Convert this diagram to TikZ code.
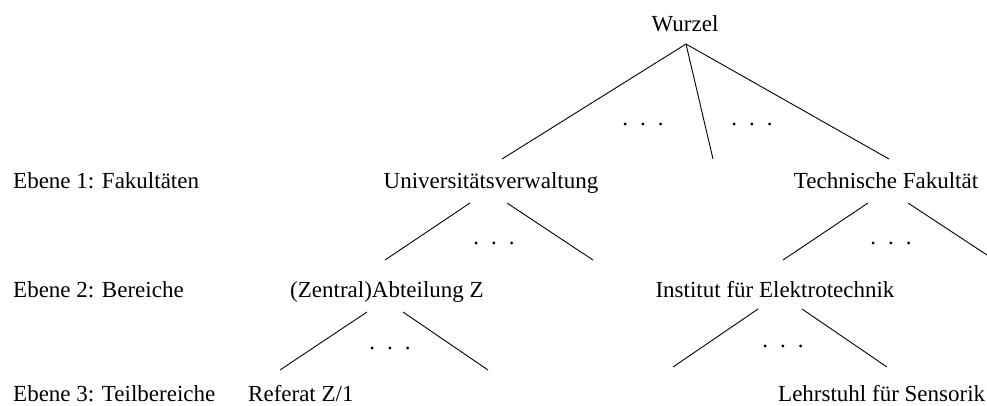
\documentclass[tikz,border=0pt]{standalone}
\usepackage{fontspec}
\setmainfont{Liberation Serif}
\begin{document}
\begin{tikzpicture}[x=1pt,y=-1pt,
  lbl/.style={inner sep=0pt,anchor=base,font=\fontsize{23}{27}\selectfont},
  lblw/.style={lbl,anchor=base west},
  dots/.style={inner sep=0pt,anchor=base,font=\fontsize{23}{27}\selectfont},
  edge/.style={draw=black,line width=0.9pt}]
\useasboundingbox (0,0) rectangle (987,405);
% level 0
\node[lbl] (wurzel) at (685,31) {Wurzel};
% level 1
\node[lblw] (e1) at (13,188) {Ebene 1: Fakultäten};
\node[lbl] (uv) at (491,188) {Universitätsverwaltung};
\node[lbl] (tf) at (886,188) {Technische Fakultät};
% level 2
\node[lblw] (e2) at (13,297) {Ebene 2: Bereiche};
\node[lbl] (za) at (387,297) {(Zentral)Abteilung Z};
\node[lbl] (ie) at (775,297) {Institut für Elektrotechnik};
% level 3
\node[lblw] (e3) at (13,401) {Ebene 3: Teilbereiche};
\node[lblw] (rz) at (248,401) {Referat Z/1};
\node[lblw] (ls) at (778,401) {Lehrstuhl für Sensorik};
% dots
\newcommand{\tdots}{.\hspace{12pt}.\hspace{12pt}.}
\node[dots] (d1) at (643,125) {\tdots};
\node[dots] (d2) at (752,125) {\tdots};
\node[dots] (d3) at (494,244) {\tdots};
\node[dots] (d4) at (891,244) {\tdots};
\node[dots] (d5) at (390,349) {\tdots};
\node[dots] (d6) at (783,347) {\tdots};
% connector end points
\coordinate (wS) at (686,44);
\coordinate (uvN) at (502,159);
\coordinate (midN) at (713,159);
\coordinate (tfN) at (889,159);
\coordinate (uvSL) at (470,203);
\coordinate (uvSR) at (507,203);
\coordinate (zaN) at (385,260);
\coordinate (uvR) at (593,260);
\coordinate (tfSL) at (868,203);
\coordinate (tfSR) at (908,203);
\coordinate (ieN) at (783,260);
\coordinate (tfR) at (987,255);
\coordinate (zaSL) at (367,312);
\coordinate (zaSR) at (403,312);
\coordinate (rzN) at (280,370);
\coordinate (zaR) at (488,370);
\coordinate (ieSL) at (758,309);
\coordinate (ieSR) at (802,309);
\coordinate (ieL) at (673,367);
\coordinate (lsN) at (887,367);
% connectors
\draw[edge] (wS) -- (uvN);
\draw[edge] (wS) -- (midN);
\draw[edge] (wS) -- (tfN);
\draw[edge] (uvSL) -- (zaN);
\draw[edge] (uvSR) -- (uvR);
\draw[edge] (tfSL) -- (ieN);
\draw[edge] (tfSR) -- (tfR);
\draw[edge] (zaSL) -- (rzN);
\draw[edge] (zaSR) -- (zaR);
\draw[edge] (ieSL) -- (ieL);
\draw[edge] (ieSR) -- (lsN);
\end{tikzpicture}
\end{document}
